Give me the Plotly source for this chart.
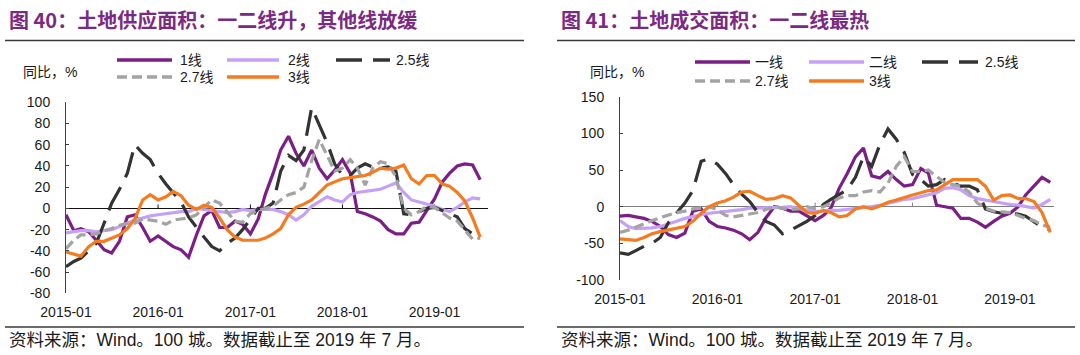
import pandas as pd
import plotly.graph_objects as go

# ---------------- data ----------------
months_left = pd.date_range("2015-01-01", periods=55, freq="MS")
months_right = pd.date_range("2015-01-01", periods=54, freq="MS")

year_ticks = ["2015-01-01", "2016-01-01", "2017-01-01", "2018-01-01", "2019-01-01"]
year_labels = ["2015-01", "2016-01", "2017-01", "2018-01", "2019-01"]

left_yticks = [-80, -60, -40, -20, 0, 20, 40, 60, 80, 100]
right_yticks = [-100, -50, 0, 50, 100, 150]

# Fig 40: land supply area, YoY %
supply_t1 = [-6, -21, -19, -22, -30, -39, -42, -31, -8, -6,
             -18, -31, -26, -31, -36, -39, -46, -25, -7, -2,
             -18, -18, -12, -15, -24, -10, 13, 33, 55, 68,
             52, 40, 55, 38, 28, 36, 46, 33, -3, -5,
             -8, -12, -20, -24, -24, -14, -13, -2, 9, 25,
             33, 40, 42, 41, 27]
supply_t2 = [-23, -22, -21, -21, -22, -21, -20, -17, -14, -11,
             -9, -7, -6, -5, -4, -3, -3, 0, -1, -2,
             -3, -4, -3, -1, -2, -1, -1, -1, -3, -6,
             -11, -6, 2, 6, 11, 8, 6, 13, 15, 16,
             17, 18, 21, 24, 15, 8, 6, 4, 2, -1,
             -3, 1, 6, 10, 9]
supply_t25 = [-55, -50, -47, -40, -33, -14, 5, 18, 33, 60,
              52, 46, 33, 23, 15, 6, -8, -18, -27, -36,
              -40, -33, -28, -20, -10, 0, 0, 5, 35, 50,
              45, 55, 95, 78, 62, 42, 31, 31, 38, 42,
              39, 38, 39, 35, -5, -6, -3, 0, 1, -2,
              -5, -8, -19, -24, -25]
supply_t27 = [-38, -30, -25, -25, -24, -21, -19, -16, -14, -14,
              -10, -11, -12, -15, -11, -10, -9, -6, 1, 8,
              5, -3, -12, -13, -5, -2, 0, 2, 8, 13,
              15, 20, 45, 65, 50, 35, 38, 46, 38, 22,
              38, 44, 42, 30, 0, -6, -3, 2, 1, -4,
              -9, -12, -20, -29, -28]
supply_t3 = [-41, -43, -45, -36, -31, -31, -28, -25, -19, -10,
             8, 13, 8, 11, 16, 12, 3, -1, 3, 1,
             -9, -20, -27, -30, -30, -30, -28, -24, -19, -6,
             1, 4, 8, 15, 22, 25, 28, 29, 30, 31,
             34, 38, 37, 38, 41, 28, 23, 31, 31, 23,
             21, 15, 7, -9, -27]

# Fig 41: land transaction area, YoY %
deal_t1 = [-13, -12, -14, -16, -20, -27, -38, -42, -36, -6,
           -3, -20, -27, -29, -32, -37, -45, -35, -15, 0,
           -2, -6, -6, -13, -19, -12, -2, 25, 45, 68,
           80, 42, 39, 48, 37, 28, 30, 52, 46, 2,
           0, -2, -16, -16, -21, -28, -20, -13, -9, 0,
           16, 28, 40, 33]
deal_t2 = [-19, -27, -30, -30, -29, -27, -24, -20, -16, -13,
           -11, -9, -8, -6, -5, -4, -2, -2, -2, -2,
           -1, 0, -2, -4, -7, -6, -5, -5, -4, -3,
           -1, 0, 2, 5, 8, 10, 11, 14, 16, 19,
           25, 26, 23, 15, 11, 9, 7, 4, 3, 2,
           0, -2, 3, 10]
deal_t25 = [-63, -65, -60, -54, -50, -42, -22, -9, 5, 22,
            62, 65, 58, 45, 30, 17, 7, -8, -20, -25,
            -37, -32, -26, -20, -12, 3, 10, 17, 23, 40,
            68, 55, 85, 106, 92, 74, 44, 37, 28, 30,
            37, 32, 28, 28, 23, -3, -7, -9, -10, -10,
            -13, -21, -28, -32]
deal_t27 = [-35, -32, -28, -23, -19, -15, -11, -8, -6, -3,
            -2, 0, -4, -12, -14, -12, -11, -8, -4, 0,
            -2, -4, -3, 0, -3, 0, 5, 12, 15, 15,
            20, 22, 20, 32, 55, 68, 48, 48, 50, 42,
            33, 30, 28, 20, 5, -2, -6, -7, -8, -12,
            -16, -19, -25, -28]
deal_t3 = [-44, -45, -46, -42, -37, -34, -32, -30, -27, -20,
           -9, 0, 5, 8, 13, 20, 21, 15, 10, 11,
           15, 12, 2, -8, -9, -5, -8, -14, -12, -3,
           0, -3, 1, 6, 9, 13, 16, 19, 22, 23,
           30, 37, 37, 37, 37, 28, 9, 15, 16, 11,
           11, 7, -8, -35]

left_names = ["1线", "2线", "2.5线", "2.7线", "3线"]
right_names = ["一线", "二线", "2.5线", "2.7线", "3线"]
left_values = [supply_t1, supply_t2, supply_t25, supply_t27, supply_t3]
right_values = [deal_t1, deal_t2, deal_t25, deal_t27, deal_t3]

# ---------------- styles ----------------
W, H = 1080, 355
PURPLE = "#7B1F86"
LAVENDER = "#C6A0F5"
DARK = "#333333"
GRAY = "#A3A3A3"
ORANGE = "#F47B20"
TITLE_COLOR = "#7A2A82"
styles = [
    dict(color=PURPLE, width=3.2, dash="solid"),
    dict(color=LAVENDER, width=3.2, dash="solid"),
    dict(color=DARK, width=3.2, dash="26px,11px"),
    dict(color=GRAY, width=3.2, dash="10px,5px"),
    dict(color=ORANGE, width=3.2, dash="solid"),
]
LATIN = "Liberation Sans, Arial, Noto Sans CJK SC"
CJK = "Noto Sans CJK SC"


def fx(p):
    return p / W


def fy(p):
    return 1 - p / H


fig = go.Figure()
for name, vals, st in zip(left_names, left_values, styles):
    fig.add_trace(go.Scatter(x=months_left, y=vals, name=name, mode="lines",
                             line=st, xaxis="x", yaxis="y", showlegend=False,
                             hoverinfo="skip"))
for name, vals, st in zip(right_names, right_values, styles):
    fig.add_trace(go.Scatter(x=months_right, y=vals, name=name, mode="lines",
                             line=st, xaxis="x2", yaxis="y2", showlegend=False,
                             hoverinfo="skip"))

tickfont = dict(family=LATIN, size=14, color="#1a1a1a")
xcommon = dict(showline=False, showgrid=False, zeroline=False, ticks="",
               tickvals=year_ticks, ticktext=year_labels, tickfont=tickfont,
               ticklabelstandoff=9, fixedrange=True, automargin=False)
ycommon = dict(showline=True, linecolor="#404040", linewidth=1, ticks="inside",
               ticklen=3, tickcolor="#404040", showgrid=False, zeroline=True,
               zerolinewidth=1, tickfont=tickfont, ticklabelstandoff=12,
               fixedrange=True, automargin=False)

fig.update_layout(
    width=W, height=H, autosize=False,
    margin=dict(l=0, r=0, t=0, b=0, pad=0),
    paper_bgcolor="white", plot_bgcolor="white",
    xaxis=dict(domain=[fx(66), fx(488)], range=["2015-01-01", "2019-08-01"],
               anchor="y", **xcommon),
    yaxis=dict(domain=[fy(293.3), fy(102.3)], range=[-80, 100], anchor="x",
               tickvals=left_yticks, ticktext=[str(v) for v in left_yticks],
               zerolinecolor="#111111", **ycommon),
    xaxis2=dict(domain=[fx(620), fx(1054)], range=["2015-01-01", "2019-06-15"],
                anchor="y2", **xcommon),
    yaxis2=dict(domain=[fy(280), fy(96.7)], range=[-100, 150], anchor="x2",
                tickvals=right_yticks, ticktext=[str(v) for v in right_yticks],
                zerolinecolor="#7f7f7f", **ycommon),
)

shapes = []
# small year ticks on the zero lines
for xr, yr, col in (("x", "y", "#111111"), ("x2", "y2", "#7f7f7f")):
    for d in year_ticks[1:]:
        shapes.append(dict(type="line", xref=xr, yref=yr, x0=d, x1=d,
                           ysizemode="pixel", yanchor=0, y0=0, y1=4,
                           line=dict(color=col, width=1), layer="below"))
# title underlines and bottom rules
for x0, x1 in ((5, 524), (557, 1075)):
    shapes.append(dict(type="line", xref="paper", yref="paper",
                       x0=fx(x0), x1=fx(x1), y0=fy(40.5), y1=fy(40.5),
                       line=dict(color="#3a3a3a", width=1.5)))
    shapes.append(dict(type="line", xref="paper", yref="paper",
                       x0=fx(x0), x1=fx(x1), y0=fy(327), y1=fy(327),
                       line=dict(color="#3a3a3a", width=1.5)))

annotations = []


def text(x, y, s, size=14, color="#1a1a1a", family=LATIN):
    annotations.append(dict(xref="paper", yref="paper", x=fx(x), y=fy(y),
                            xanchor="left", yanchor="middle", showarrow=False,
                            text=s, font=dict(family=family, size=size, color=color)))


# titles
text(7, 19, "<b>图 40：土地供应面积：一二线升，其他线放缓</b>", size=20,
     color=TITLE_COLOR, family=CJK)
text(559, 19, "<b>图 41：土地成交面积：一二线最热</b>", size=20,
     color=TITLE_COLOR, family=CJK)
# unit labels
text(21, 72, "同比，%", size=14)
text(588, 72, "同比，%", size=14)
# sources
src = "资料来源：Wind。100 城。数据截止至 2019 年 7 月。"
text(7, 340, src, size=17.5)
text(559, 340, src, size=17.5)

# manual legends (two rows of three entries)
legend_layout_left = [
    (117, 172, 60, 178), (227, 279, 60, 286), (336, 390, 60, 394),
    (117, 172, 77, 178), (227, 279, 77, 286),
]
legend_layout_right = [
    (695, 750, 62, 753), (809, 864, 62, 867), (922, 978, 62, 983),
    (695, 750, 81, 753), (809, 864, 81, 867),
]
for names, lay in ((left_names, legend_layout_left), (right_names, legend_layout_right)):
    for name, st, (sx0, sx1, sy, tx) in zip(names, styles, lay):
        shapes.append(dict(type="line", xref="paper", yref="paper",
                           x0=fx(sx0), x1=fx(sx1), y0=fy(sy), y1=fy(sy),
                           line=dict(color=st["color"], width=3.5, dash=st["dash"])))
        text(tx, sy, name, size=14)

fig.update_layout(shapes=shapes, annotations=annotations)
fig.write_html("out.html", config={"displayModeBar": False},
               post_script="document.body.style.margin='0';")
